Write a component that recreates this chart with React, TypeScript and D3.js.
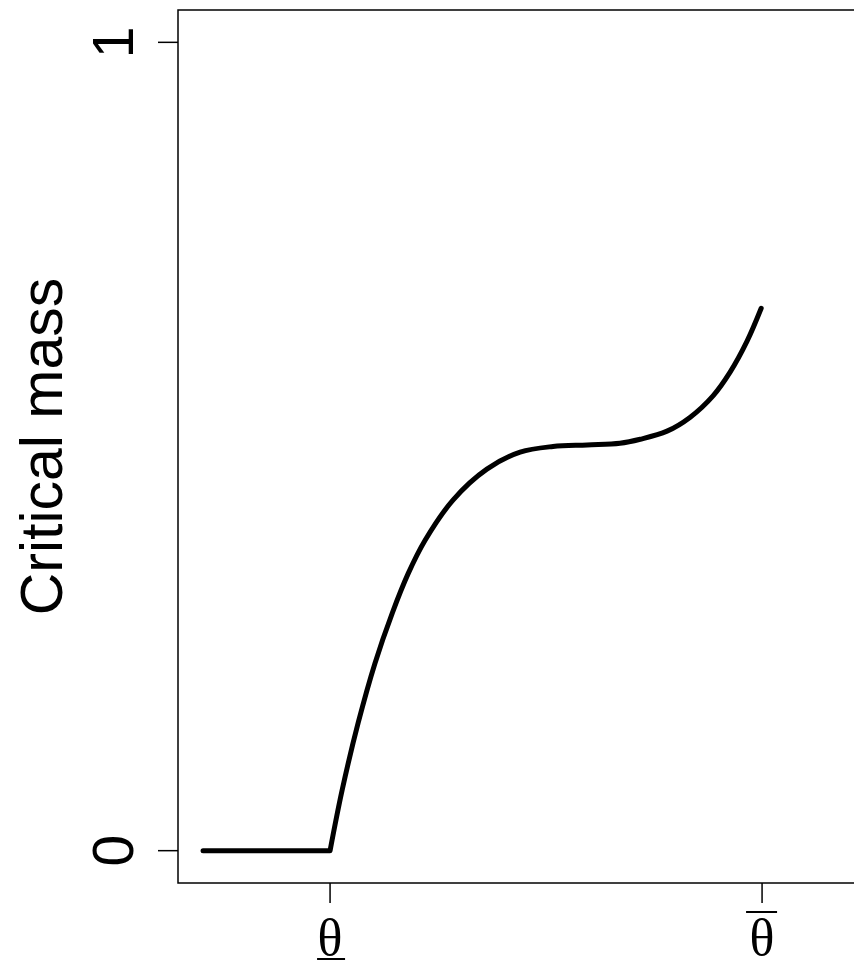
import React from "react";
import * as d3 from "d3";

// Data (theta normalised: lower bound = 0, upper bound = 1)
const flatTheta = [-0.294, 0];
const flatMass = [0, 0];
const riseTheta = [0, 0.028, 0.065, 0.104, 0.144, 0.181, 0.22, 0.285, 0.363, 0.44, 0.516, 0.595, 0.671, 0.718, 0.78, 0.833, 0.887, 0.926, 0.965, 0.998];
const riseMass = [0, 0.075, 0.158, 0.232, 0.294, 0.343, 0.384, 0.434, 0.472, 0.493, 0.500, 0.502, 0.504, 0.509, 0.519, 0.536, 0.563, 0.592, 0.630, 0.671];
const yTicks = [0, 1];
const yTickLabels = ["0", "1"];
const xTicks = [0, 1];
const xTickMarks = ["under", "over"];
const yTitle = "Critical mass";

const W = 854;
const H = 966;
const left = 178;
const top = 10;
const bottom = 883;
const xDomain = [-0.352, 1.25];
const yDomain = [-0.04, 1.04];

export default function App() {
  const pxPerUnit = 432;
  const right = left + (xDomain[1] - xDomain[0]) * pxPerUnit;
  const x = d3.scaleLinear().domain(xDomain).range([left, right]);
  const y = d3.scaleLinear().domain(yDomain).range([bottom, top]);

  const flatPts = flatTheta.map((t, i) => [x(t), y(flatMass[i])] as [number, number]);
  const risePts = riseTheta.map((t, i) => [x(t), y(riseMass[i])] as [number, number]);
  const rise = d3.line().curve(d3.curveCatmullRom.alpha(0.5))(risePts) || "";
  const pathD = `M${flatPts[0][0]},${flatPts[0][1]}L` + rise.slice(1);

  const fontSans = "'Liberation Sans', Arial, Helvetica, sans-serif";
  const fontSerif = "'Liberation Serif', 'Times New Roman', serif";

  return (
    <svg
      width={W}
      height={H}
      style={{ position: "fixed", left: 0, top: 0, background: "#fff" }}
    >
      <rect x={0} y={0} width={W} height={H} fill="#fff" />
      {/* plot box */}
      <rect
        x={left}
        y={top}
        width={right - left}
        height={bottom - top}
        fill="none"
        stroke="#000"
        strokeWidth={1.5}
      />
      {/* y axis ticks */}
      {yTicks.map((v, i) => (
        <g key={"y" + i}>
          <line x1={left - 20} x2={left} y1={y(v)} y2={y(v)} stroke="#000" strokeWidth={1.5} />
          <text
            transform={`translate(133,${y(v)}) rotate(-90)`}
            textAnchor="middle"
            fontFamily={fontSans}
            fontSize={57}
            fill="#000"
          >
            {yTickLabels[i]}
          </text>
        </g>
      ))}
      {/* x axis ticks */}
      {xTicks.map((v, i) => (
        <g key={"x" + i}>
          <line x1={x(v)} x2={x(v)} y1={bottom} y2={bottom + 20} stroke="#000" strokeWidth={1.5} />
          <text
            x={x(v)}
            y={955}
            textAnchor="middle"
            fontFamily={fontSerif}
            fontSize={52}
            fill="#000"
          >
            θ
          </text>
          {xTickMarks[i] === "under" ? (
            <line x1={x(v) - 13} x2={x(v) + 15} y1={959} y2={959} stroke="#000" strokeWidth={2} />
          ) : (
            <line x1={x(v) - 16} x2={x(v) + 15} y1={912} y2={912} stroke="#000" strokeWidth={2} />
          )}
        </g>
      ))}
      {/* y title */}
      <text
        transform={`translate(62,${(y(0) + y(1)) / 2}) rotate(-90)`}
        textAnchor="middle"
        fontFamily={fontSans}
        fontSize={59}
        fill="#000"
      >
        {yTitle}
      </text>
      {/* curve */}
      <path d={pathD} fill="none" stroke="#000" strokeWidth={5} strokeLinecap="round" strokeLinejoin="round" />
    </svg>
  );
}
